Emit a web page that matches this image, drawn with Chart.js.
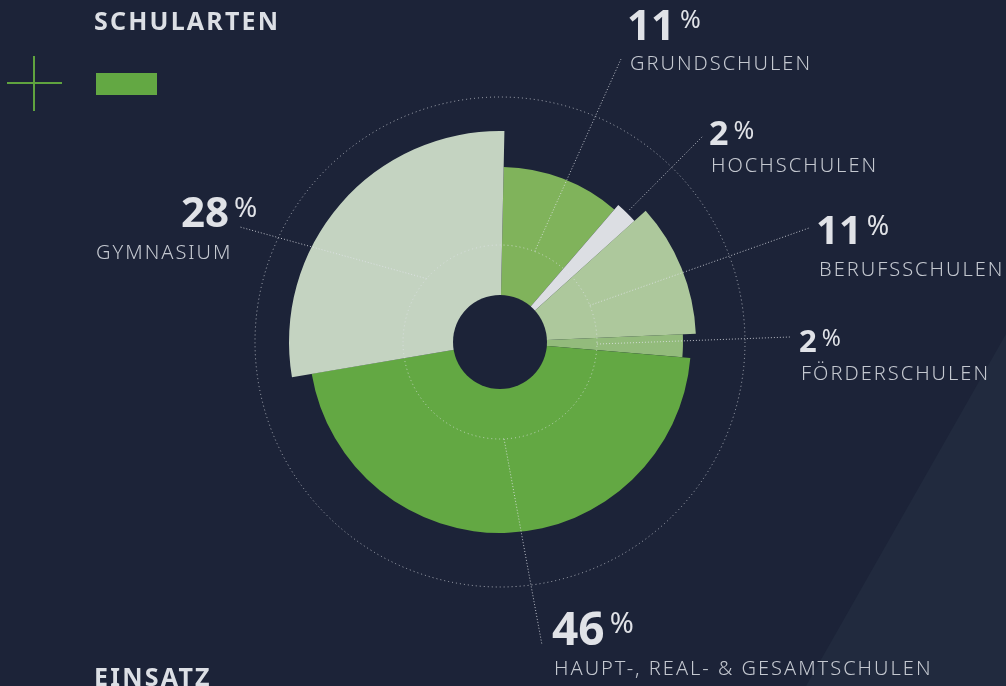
<!DOCTYPE html>
<html lang="de">
<head>
<meta charset="utf-8">
<title>Schularten</title>
<script src="https://cdn.jsdelivr.net/npm/chart.js@4/dist/chart.umd.min.js"></script>
<style>
  html, body { margin: 0; padding: 0; }
  body {
    width: 1006px; height: 686px; overflow: hidden; position: relative;
    background: #1c2338;
    font-family: "Noto Sans", "Open Sans", sans-serif;
  }
  #diag {
    position: absolute; left: 0; top: 0; width: 1006px; height: 686px;
    background: #212a3e;
    clip-path: polygon(1006px 334px, 1006px 686px, 806px 686px);
  }
  #chart { position: absolute; left: 0; top: 0; }
  .titel {
    position: absolute; left: 94px; margin: 0;
    font-size: 25px; font-weight: 700; letter-spacing: 2.2px; line-height: 1;
    color: #dcdfe5;
  }
  .kreuz-h { position: absolute; left: 7px; top: 82px; width: 55px; height: 2px; background: #5fa33f; }
  .kreuz-v { position: absolute; left: 33px; top: 56px; width: 2px; height: 55px; background: #5fa33f; }
  .balken { position: absolute; left: 96px; top: 73px; width: 61px; height: 22px; background: #63a843; }
  .zahl {
    position: absolute; line-height: 1; font-weight: 700; color: #e0e2e7; white-space: nowrap;
  }
  .zahl span { font-weight: 400; vertical-align: top; margin-left: 5px; position: relative; }
  .name {
    position: absolute; line-height: 1; font-size: 20px; font-weight: 300;
    letter-spacing: 2px; color: #c4c8d0; white-space: nowrap;
  }
</style>
</head>
<body>
<div id="diag"></div>
<canvas id="chart" width="1006" height="686"></canvas>

<h2 class="titel" style="top:8px">SCHULARTEN</h2>
<div class="kreuz-h"></div><div class="kreuz-v"></div>
<div class="balken"></div>
<h2 class="titel" style="top:664px">EINSATZ</h2>

<div id="labels"></div>

<script>
// Daten (im Uhrzeigersinn ab 12 Uhr)
const kategorien = ['GRUNDSCHULEN', 'HOCHSCHULEN', 'BERUFSSCHULEN', 'FÖRDERSCHULEN', 'HAUPT-, REAL- & GESAMTSCHULEN', 'GYMNASIUM'];
const anteile = [11, 2, 11, 2, 46, 28];          // Prozent -> Winkel des Segments
const radien = [175, 181, 196, 183, 191, 211];   // Länge des Segments auf der r-Skala (0-250)
const gitterWerte = [0, 97, 245];                // gepunktete Kreise

const farben = ['#80b35b', '#dcdee3', '#adc89c', '#93bb7c', '#63a843', '#c4d3c1'];

// Beschriftung: Zahl (x, y, Größe), Prozentzeichen-Größe, Name (x, y), Endpunkt der Linie, Startradius
const beschriftung = [
  { zx: 627, zy: 3,   zs: 42, ps: 25, nx: 630, ny: 53,  lx: 621, ly: 59,  r0: 97 },
  { zx: 709, zy: 115, zs: 34, ps: 25, nx: 711, ny: 155, lx: 703, ly: 136, r0: 185 },
  { zx: 816, zy: 209, zs: 40, ps: 27, nx: 819, ny: 259, lx: 809, ly: 228, r0: 97 },
  { zx: 799, zy: 325, zs: 31, ps: 23, nx: 801, ny: 363, lx: 790, ly: 337, r0: 97 },
  { zx: 552, zy: 604, zs: 46, ps: 29, nx: 554, ny: 658, lx: 542, ly: 645, r0: 97 },
  { zx: 181, zy: 190, zs: 42, ps: 28, nx: 96,  ny: 242, lx: 240, ly: 227, r0: 97 }
];

const box = document.getElementById('labels');
kategorien.forEach((k, i) => {
  const b = beschriftung[i];
  const z = document.createElement('div');
  z.className = 'zahl';
  z.style.left = b.zx + 'px'; z.style.top = b.zy + 'px'; z.style.fontSize = b.zs + 'px';
  z.innerHTML = anteile[i] + '<span style="font-size:' + b.ps + 'px;top:' + (b.zs * 0.17 - b.ps * 0.17) + 'px">%</span>';
  box.appendChild(z);
  const n = document.createElement('div');
  n.className = 'name';
  n.style.left = b.nx + 'px'; n.style.top = b.ny + 'px';
  n.textContent = k;
  box.appendChild(n);
});

const BG = '#1c2338';

const lochUndLinien = {
  id: 'lochUndLinien',
  afterDatasetsDraw(chart) {
    const arc = chart.getDatasetMeta(0).data[0];
    const ctx = chart.ctx;
    ctx.save();
    ctx.fillStyle = BG;
    ctx.beginPath();
    ctx.arc(arc.x, arc.y, 47, 0, Math.PI * 2);
    ctx.fill();
    ctx.restore();
  },
  afterDraw(chart) {
    const ctx = chart.ctx;
    ctx.save();
    ctx.strokeStyle = 'rgba(225,228,234,0.8)';
    ctx.lineWidth = 1;
    ctx.setLineDash([1, 2]);
    chart.getDatasetMeta(0).data.forEach((a, i) => {
      const b = beschriftung[i];
      const mid = (a.startAngle + a.endAngle) / 2;
      ctx.beginPath();
      ctx.moveTo(a.x + Math.cos(mid) * b.r0, a.y + Math.sin(mid) * b.r0);
      ctx.lineTo(b.lx, b.ly);
      ctx.stroke();
    });
    ctx.restore();
  }
};

new Chart(document.getElementById('chart'), {
  type: 'polarArea',
  data: {
    labels: kategorien,
    datasets: [{
      data: radien,
      angle: c => anteile[c.dataIndex] * 3.6,
      backgroundColor: farben,
      borderWidth: 0
    }]
  },
  options: {
    responsive: false,
    animation: false,
    devicePixelRatio: 1,
    layout: { padding: { left: 250, right: 256, top: 92, bottom: 94 } },
    plugins: { legend: { display: false }, tooltip: { enabled: false } },
    scales: {
      r: {
        min: 0,
        max: 250,
        startAngle: 1.2,
        afterBuildTicks: s => { s.ticks = gitterWerte.map(v => ({ value: v })); },
        ticks: { display: false },
        grid: { circular: true, color: 'rgba(225,228,234,0.7)', lineWidth: 1, z: 1 },
        border: { dash: [1, 3] },
        angleLines: { display: false },
        pointLabels: { display: false }
      }
    }
  },
  plugins: [lochUndLinien]
});
</script>
</body>
</html>
